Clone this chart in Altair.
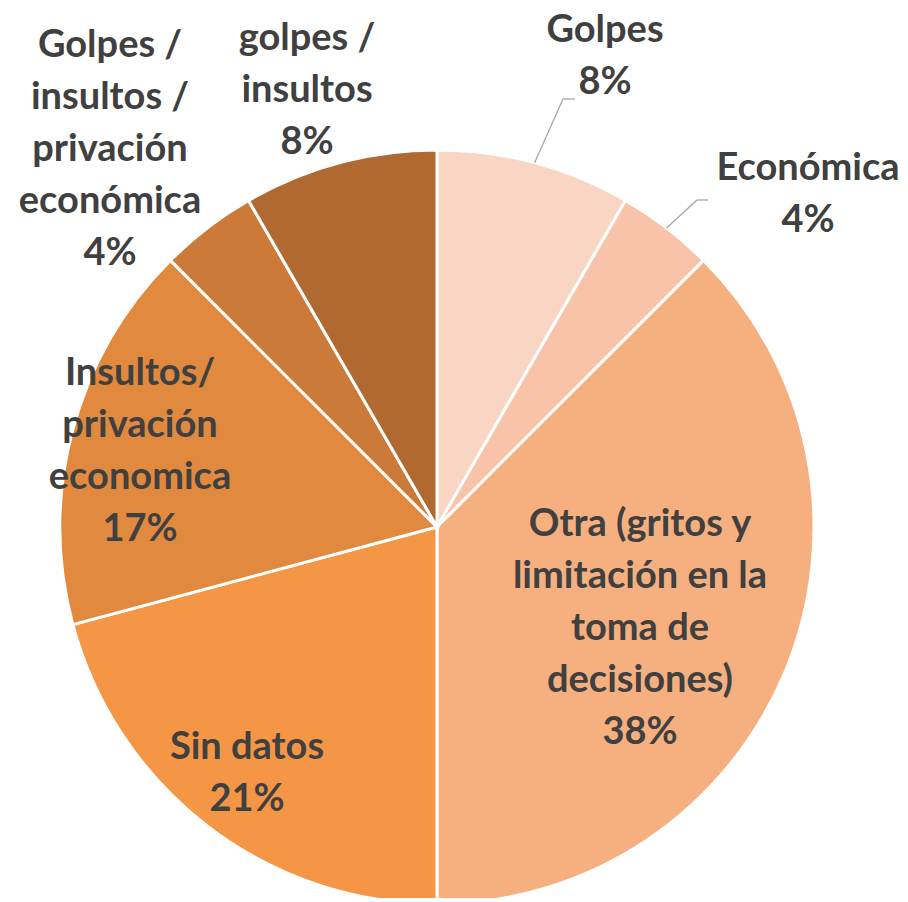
import altair as alt
import pandas as pd
import numpy as np

# Data
categories = [
    "Golpes",
    "Económica",
    "Otra (gritos y limitación en la toma de decisiones)",
    "Sin datos",
    "Insultos/ privación economica",
    "Golpes / insultos / privación económica",
    "golpes / insultos",
]
counts = [2, 1, 9, 5, 4, 1, 2]
label_lines = [
    ["Golpes"],
    ["Económica"],
    ["Otra (gritos y", "limitación en la", "toma de", "decisiones)"],
    ["Sin datos"],
    ["Insultos/", "privación", "economica"],
    ["Golpes /", "insultos /", "privación", "económica"],
    ["golpes /", "insultos"],
]
colors = ["#F9D5C3", "#F8C3A8", "#F6AF7F", "#F59646", "#E0893F", "#CB7A3A", "#B06A31"]

total = sum(counts)
pcts = [round(c / total * 100) for c in counts]
df = pd.DataFrame({
    "cat": categories,
    "count": counts,
    "idx": list(range(len(categories))),
    "label": [lines + [f"{p}%"] for lines, p in zip(label_lines, pcts)],
})

# Layout (pixels inside chart)
W, H = 892, 890
CX, CY, R = 429, 519, 377
FONT = "Lato"
FS = 38
label_pos = {  # centre x, middle of first line y
    0: (597, 23),
    1: (800, 161),
    2: (632, 517),
    3: (239, 740),
    4: (132, 366),
    5: (102, 38),
    6: (299, 31),
}

base = alt.Chart(df)
pie = base.mark_arc(outerRadius=R, stroke="white", strokeWidth=3).encode(
    theta=alt.Theta("count:Q", stack=True),
    order=alt.Order("idx:Q"),
    color=alt.Color("cat:N", scale=alt.Scale(domain=categories, range=colors), legend=None),
    x=alt.value(CX),
    y=alt.value(CY),
)

layers = [pie]
for i, (lx, ly) in label_pos.items():
    t = alt.Chart(df).transform_filter(alt.datum.idx == i).mark_text(
        font=FONT, fontSize=FS, fontWeight="bold", color="#404040",
        align="center", baseline="middle", lineHeight=52,
    ).encode(text="label", x=alt.value(lx), y=alt.value(ly))
    layers.append(t)

# Leader lines computed from slice mid-angles
cum = np.cumsum([0] + counts)
mid = [(cum[i] + cum[i + 1]) / 2 / total * 2 * np.pi for i in range(len(counts))]
leaders = {0: (555, 91, 567), 1: (689, 192, 700)}
for i, (ex, ey, hx) in leaders.items():
    ax_ = CX + R * np.sin(mid[i])
    ay_ = CY - R * np.cos(mid[i])
    seg1 = alt.Chart(df).transform_filter(alt.datum.idx == i).mark_rule(color="#A6A6A6", strokeWidth=1.3).encode(
        x=alt.value(float(ax_)), y=alt.value(float(ay_)), x2=alt.value(ex), y2=alt.value(ey))
    seg2 = alt.Chart(df).transform_filter(alt.datum.idx == i).mark_rule(color="#A6A6A6", strokeWidth=1.3).encode(
        x=alt.value(ex), y=alt.value(ey), x2=alt.value(hx), y2=alt.value(ey))
    layers += [seg1, seg2]

chart = alt.layer(*layers).properties(
    width=W, height=H, padding=0, autosize="none"
).configure_view(stroke=None)

chart.save("out.html", embed_options={"renderer": "svg", "actions": False})
